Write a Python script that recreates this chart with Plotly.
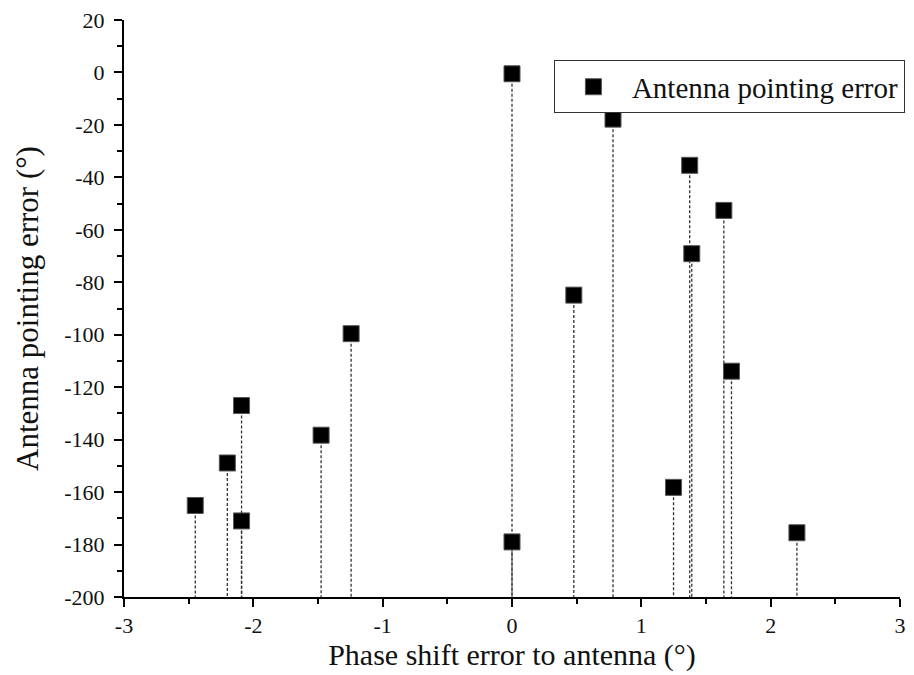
import plotly.graph_objects as go

phase_err = [-2.449, -2.201, -2.091, -2.091, -1.476, -1.244, 0.0, 0.0,
             0.478, 0.781, 1.374, 1.390, 1.249, 1.638, 1.697, 2.203]
point_err = [-165.1, -148.9, -127.0, -171.0, -138.3, -99.6, -0.5, -179.0,
             -84.9, -17.8, -35.4, -69.1, -158.2, -52.6, -113.9, -175.5]
y_base = -200

x_tickvals = [-3, -2, -1, 0, 1, 2, 3]
x_ticktext = ["-3", "-2", "-1", "0", "1", "2", "3"]
y_tickvals = [20, 0, -20, -40, -60, -80, -100, -120, -140, -160, -180, -200]
y_ticktext = ["20", "0", "-20", "-40", "-60", "-80", "-100", "-120", "-140",
              "-160", "-180", "-200"]

stem_x, stem_y = [], []
for xv, yv in zip(phase_err, point_err):
    stem_x += [xv, xv, None]
    stem_y += [yv, y_base, None]

font_family = "Liberation Serif"

fig = go.Figure()
fig.add_trace(go.Scatter(
    x=stem_x, y=stem_y, mode="lines",
    line=dict(color="#333333", width=1.3, dash="3px,2px"),
    showlegend=False, hoverinfo="skip",
))
fig.add_trace(go.Scatter(
    x=phase_err, y=point_err, mode="markers",
    name="Antenna pointing error",
    marker=dict(symbol="square", size=16, color="black",
                line=dict(color="#555555", width=1)),
))

axis_common = dict(
    showgrid=False, zeroline=False, showline=True, linecolor="black",
    linewidth=2, ticks="outside", ticklen=8, tickwidth=2, tickcolor="black",
    tickfont=dict(family=font_family, size=22, color="#111111"),
)

fig.update_xaxes(
    range=[-3, 3], tickmode="array", tickvals=x_tickvals, ticktext=x_ticktext,
    **axis_common,
    minor=dict(ticks="outside", ticklen=5, tickwidth=2, tickcolor="black",
               tick0=-3, dtick=0.5),
    title=dict(text="Phase shift error to antenna (°)",
               font=dict(family=font_family, size=30, color="#111111"), standoff=4),
)
fig.update_yaxes(
    range=[-200, 20], tickmode="array", tickvals=y_tickvals, ticktext=y_ticktext,
    **axis_common, ticklabelstandoff=5,
    minor=dict(ticks="outside", ticklen=5, tickwidth=2, tickcolor="black",
               tick0=-200, dtick=10),
    title=dict(text="Antenna pointing error (°)",
               font=dict(family=font_family, size=31, color="#111111"), standoff=16),
)

fig.update_layout(
    width=914, height=675,
    margin=dict(l=124, r=8, t=18, b=78),
    plot_bgcolor="white", paper_bgcolor="white",
    legend=dict(x=0.554, y=0.93, xanchor="left", yanchor="top",
                bordercolor="#333333", borderwidth=1, bgcolor="white",
                itemwidth=67,
                font=dict(family=font_family, size=29, color="#111111")),
)

fig.write_html("out.html")
